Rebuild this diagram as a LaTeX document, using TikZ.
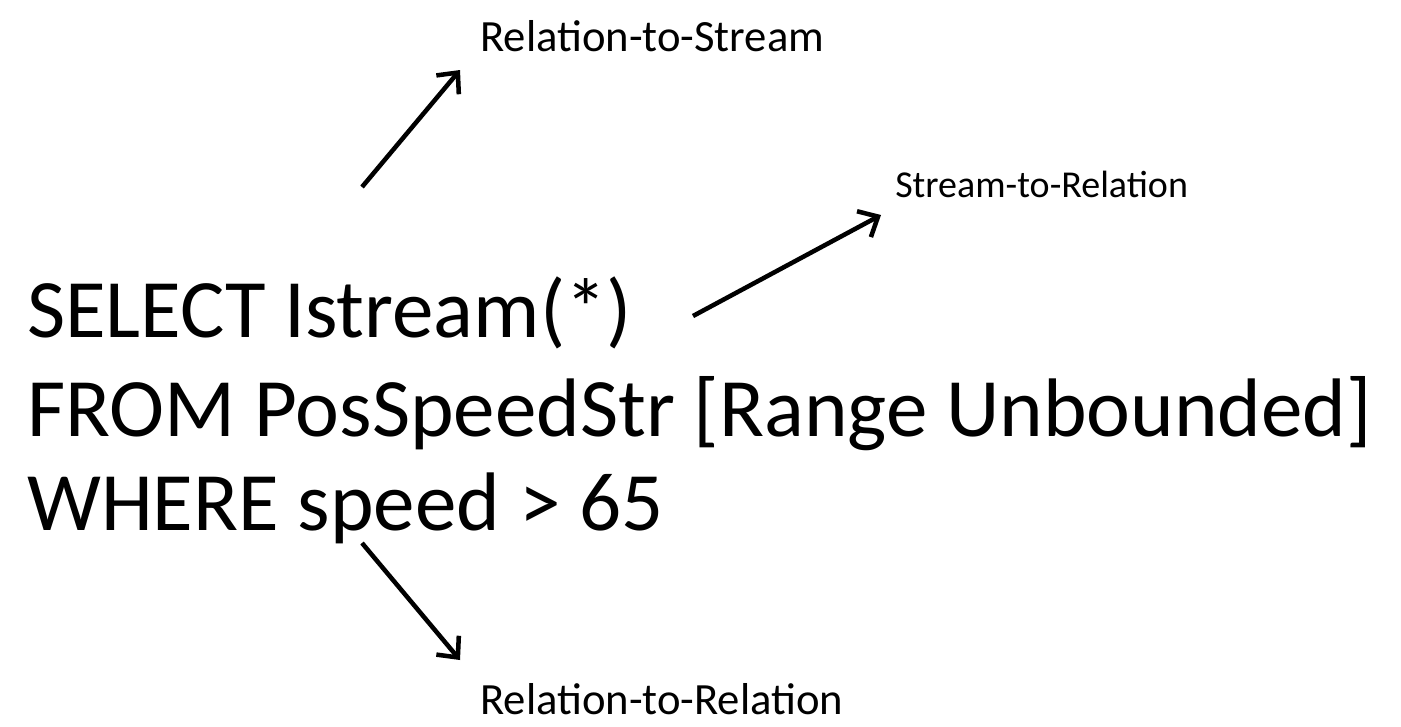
\documentclass[tikz,border=0pt]{standalone}
\usepackage{fontspec}
\setmainfont{Carlito}
\usetikzlibrary{arrows.meta}
\begin{document}
\begin{tikzpicture}[x=0.75pt,y=-0.75pt,
  bigtext/.style={anchor=base west,inner sep=0pt,font=\fontsize{62.3}{72}\selectfont},
  lbl/.style={anchor=base west,inner sep=0pt,font=\fontsize{33.5}{38}\selectfont},
  lblsmall/.style={anchor=base west,inner sep=0pt,font=\fontsize{28.5}{33}\selectfont},
  conn/.style={line width=3.4pt,-{Straight Barb[length=12pt,width=22pt,line width=3.4pt]}}]
\useasboundingbox (0,0) rectangle (1401,726);
\node[lbl] (rts) at (480,51) {Relation-to-Stream};
\node[lblsmall] (str) at (895,197) {Stream-to-Relation};
\node[bigtext] (sel) at (27,337) {SELECT Istream(*)};
\node[bigtext] (from) at (27,436) {FROM PosSpeedStr [Range Unbounded]};
\node[bigtext] (where) at (27,530) {WHERE speed > 65};
\node[lbl] (rtr) at (480,714) {Relation-to-Relation};
\coordinate (a1s) at (362,187);
\coordinate (a1e) at (460,70);
\coordinate (a2s) at (693,316);
\coordinate (a2e) at (881,215);
\coordinate (a3s) at (362,543);
\coordinate (a3e) at (460,660);
\draw[conn] (a1s) -- (a1e);
\draw[conn] (a2s) -- (a2e);
\draw[conn] (a3s) -- (a3e);
\end{tikzpicture}
\end{document}
